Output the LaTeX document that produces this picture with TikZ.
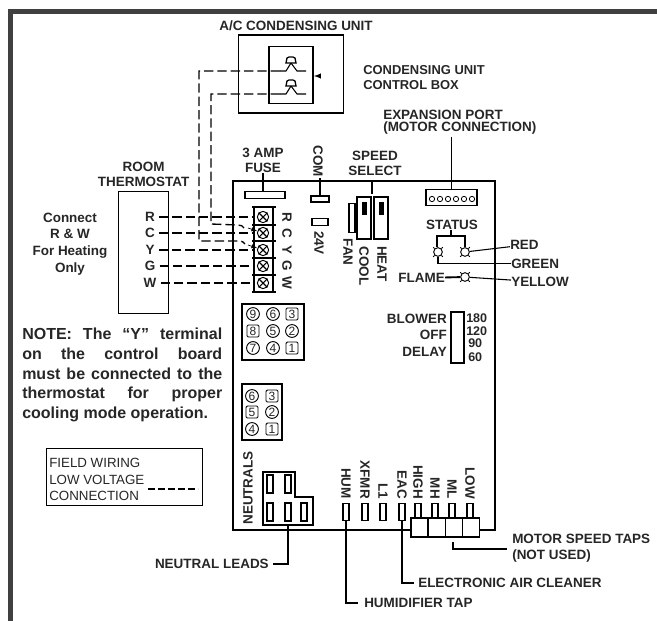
\documentclass[tikz,border=0pt]{standalone}
\usepackage{fontspec}
\setmainfont{Liberation Sans}
\usetikzlibrary{positioning}
\usetikzlibrary{calc}
\tikzset{
  x=0.75pt, y=-0.75pt,
  every node/.style={inner sep=0pt, font=\fontsize{10.1}{11.25}\selectfont\bfseries, text=black!85},
  wire/.style={line width=1pt, dash pattern=on 7pt off 3pt},
  lead/.style={line width=0.8pt},
  heavy/.style={line width=1.4pt},
  part/.style={draw, line width=1.1pt, fill=white},
  led/.style={draw, circle, line width=0.7pt, minimum size=6.5pt},
  pin/.style={draw, circle, line width=0.7pt, minimum size=9.6pt, font=\fontsize{9}{9}\selectfont},
  sqpin/.style={draw, rectangle, rounded corners=1pt, line width=0.7pt, minimum size=9pt, font=\fontsize{9}{9}\selectfont},
  term/.style={draw, circle, line width=0.7pt, minimum size=8.5pt},
  rot/.style={rotate=-90},
  noteline/.style={anchor=west, font=\fontsize{12}{12}\selectfont\bfseries},
}
\begin{document}
\begin{tikzpicture}
  \useasboundingbox (0,0) rectangle (657,621);

  % page border
  \fill[black!75] (8,9) rectangle (657,14);
  \fill[black!75] (8,9) rectangle (13,621);

  % condensing unit
  \node[draw, line width=0.9pt, minimum width=105*0.75pt, minimum height=78*0.75pt] (unit) at (291,74) {};
  \node (unittext) at (296,26) {A/C CONDENSING UNIT};
  \node[draw, line width=1.4pt, minimum width=44*0.75pt, minimum height=57*0.75pt] (box) at (291,75) {};
  \node[anchor=west, align=left, font=\fontsize{9.7}{11.25}\selectfont\bfseries] (boxtext) at (363,78) {CONDENSING UNIT\\CONTROL BOX};
  \foreach \z/\y in {1/71,2/94} {
    \draw[lead, line width=1pt] (286,\y-8) -- (287,\y-13) -- (289,\y-14) -- (293,\y-14) -- (295,\y-13) -- (296,\y-8) -- cycle;
    \draw[lead] (291,\y-8) -- (286,\y) -- (280,\y);
    \draw[lead] (291,\y-8) -- (297,\y) -- (306,\y);
    \coordinate (sw\z) at (280,\y);
  }
  \coordinate (boxtick) at (320,76);
  \draw[lead, -latex] (boxtick) -- (box.east |- boxtick);

  % thermostat
  \node[draw, line width=0.9pt, minimum width=50*0.75pt, minimum height=122*0.75pt, anchor=north west] (stat) at (118,191) {};
  \node[above=3pt of stat, align=center] (stattext) {ROOM\\THERMOSTAT};
  \node[align=center, font=\fontsize{10.1}{12.6}\selectfont\bfseries] (connect) at (70,244) {Connect\\R \& W\\For Heating\\Only};

  % board
  \draw[heavy] (233,181) rectangle (495,530);

  % terminal strip
  \foreach \z/\lab/\y in {1/R/217,2/C/233,3/Y/250,4/G/266,5/W/283} {
    \node (t\z) at (150,\y) {\lab};
    \coordinate (e\z) at (254,\y);
    \draw[wire] (t\z.east)++(4,0) -- (e\z);
    \node[rot] (r\z) at (287,\y) {\lab};
  }
  \draw[line width=1pt] (254,207) rectangle (273,292);
  \foreach \y in {207,225,241,258,275,292} \draw[line width=1.4pt] (252,\y) -- (276,\y);
  \foreach \z/\y in {1/217,2/233,3/250,4/266,5/283} {
    \node[term] (s\z) at (263,\y) {};
    \draw[lead] (s\z.north west) -- (s\z.south east);
    \draw[lead] (s\z.north east) -- (s\z.south west);
  }

  % thermostat to condensing unit
  \draw[wire] (sw1) -- (199,71) -- (199,241) -- (238,241) .. controls (242,241) and (244,242) .. (245,244);
  \draw[wire] (sw2) -- (211,94) -- (211,224) -- (238,225) .. controls (241,225) and (243,226) .. (244,228);
  \draw[line width=0.5pt, -latex] (248,228) -- (s2);
  \draw[line width=0.5pt, -latex] (248,245) -- (s3);

  % fuse, com, 24v
  \node[align=center] (fusetext) at (263,160) {3 AMP\\FUSE};
  \node[part, line width=0.9pt, minimum width=40*0.75pt, minimum height=7*0.75pt] (fuse) at (265,195) {};
  \draw[lead] (fuse.north -| fusetext) -- (fusetext);
  \node[rot] (comtext) at (318,161) {COM};
  \node[part, minimum width=18*0.75pt, minimum height=6*0.75pt] (com) at (320,199) {};
  \draw[lead] (com.north) -- ++(0,-17);
  \node[part, minimum width=16*0.75pt, minimum height=7*0.75pt] (vbox) at (320,222) {};
  \node[rot] (vtext) at (319,243) {24V};

  % speed select
  \node[align=center] (speedtext) at (375,163) {SPEED\\SELECT};
  \node[part, line width=0.8pt, minimum width=6*0.75pt, minimum height=29*0.75pt] (fan) at (352,218) {};
  \node[part, minimum width=14*0.75pt, minimum height=42*0.75pt] (cool) at (364,218) {};
  \node[part, minimum width=14*0.75pt, minimum height=42*0.75pt] (heat) at (381,218) {};
  \fill (361.5,202) rectangle (367,215);
  \fill (378.5,202) rectangle (384,215);
  \draw[lead] (372,181) -- (372,194);
  \node[rot] (fantext) at (348,252) {FAN};
  \node[rot] (cooltext) at (364,266) {COOL};
  \node[rot] (heattext) at (382,264) {HEAT};

  % expansion port
  \node[anchor=west, align=left, font=\fontsize{10.1}{8.6}\selectfont\bfseries] (porttext) at (383,122) {EXPANSION PORT\\(MOTOR CONNECTION)};
  \node[part, minimum width=51*0.75pt, minimum height=16*0.75pt] (port) at (451.5,197.5) {};
  \foreach \x in {0,...,5} \node[draw, circle, line width=0.6pt, minimum size=4pt] (p\x) at (432+8*\x,199) {};
  \draw[lead] (451.5,137) -- (port.north);

  % status
  \node (statustext) at (452,225) {STATUS};
  \node[led] (ledg) at (438,252) {};
  \node[led] (ledr) at (465,252) {};
  \node[led] (ledy) at (465,277) {};
  \foreach \a in {ledg,ledr,ledy} \foreach \d in {45,135,225,315}
    \draw[line width=0.6pt] (\a.\d) -- ($(\a.center)!1.4!(\a.\d)$);
  \draw[lead] (437,247) -- (437,236) -- (465,236) -- (465,247);
  \draw[lead] (451,236) -- (statustext.south -| 451,236);
  \node[anchor=west] (redtext) at (510,245) {RED};
  \node[anchor=west] (greentext) at (511,263.5) {GREEN};
  \node[anchor=west] (yellowtext) at (511,282) {YELLOW};
  \node[anchor=east] (flametext) at (445,278) {FLAME};
  \draw[lead] (ledr) -- (redtext);
  \draw[heavy] (ledg.south) |- (greentext);
  \draw[lead] (ledy) -- (yellowtext);
  \draw[heavy] (flametext) -- (ledy);

  % blower delay
  \node[part, minimum width=13*0.75pt, minimum height=51*0.75pt] (delay) at (457.5,337.5) {};
  \node[anchor=east, align=right, font=\fontsize{10.1}{12.4}\selectfont\bfseries] (delaytext) at (447,335) {BLOWER\\OFF\\DELAY};
  \foreach \t/\x/\y in {180/466/318,120/466/331,90/468/343,60/468/357}
    \node[anchor=west, font=\fontsize{9.4}{10}\selectfont\bfseries] (d\t) at (\x,\y) {\t};

  % plugs
  \draw[line width=1.6pt] (242,304) rectangle (304,360);
  \foreach \t/\x/\y in {9/253/314,6/273/314,2/292/331,5/273/331,7/253/348,4/273/348}
    \node[pin] (a\t) at (\x,\y) {\t};
  \foreach \t/\x/\y in {3/292/314,8/253/331,1/292/348}
    \node[sqpin] (a\t) at (\x,\y) {\t};
  \draw[line width=1.6pt] (242,384) rectangle (282,440);
  \foreach \t/\x/\y in {6/252/396,2/272/412,4/252/429}
    \node[pin] (b\t) at (\x,\y) {\t};
  \foreach \t/\x/\y in {3/272/396,5/252/412,1/272/429}
    \node[sqpin] (b\t) at (\x,\y) {\t};

  % note and legend
  \node[noteline] (note1) at (22,334) {\makebox[150pt][s]{NOTE: The ``Y'' terminal}};
  \node[noteline] (note2) at (22,354) {\makebox[150pt][s]{on the control board}};
  \node[noteline] (note3) at (22,374) {\makebox[150pt][s]{must be connected to the}};
  \node[noteline] (note4) at (22,394) {\makebox[150pt][s]{thermostat for proper}};
  \node[noteline] (note5) at (22,414) {cooling mode operation.};
  \node[draw, line width=1pt, minimum width=156*0.75pt, minimum height=57*0.75pt, anchor=north west] (legend) at (46,448) {};
  \node[anchor=west, align=left, font=\fontsize{10}{12.4}\selectfont] (legendtext) at (49,479.5) {FIELD WIRING\\LOW VOLTAGE\\CONNECTION};
  \coordinate (legenda) at (148,489);
  \coordinate (legendb) at (198,489);
  \draw[wire, dash pattern=on 5pt off 2.5pt] (legenda) -- (legendb);

  % neutrals
  \node[rotate=90] (neutraltext) at (248,488) {NEUTRALS};
  \draw[line width=1pt] (263,472) -- (295,472) -- (295,497) -- (313,497) -- (313,525) -- (263,525) -- cycle;
  \foreach \x/\y in {267/475,285/475,267/503,285/503,301/503}
    \draw[line width=1.1pt] (\x,\y) rectangle ++(6,18);
  \node[anchor=east] (neutralleads) at (269,564) {NEUTRAL LEADS};
  \coordinate (neutraljoin) at (288,525);
  \draw[lead] (neutraljoin) |- ($(neutralleads.east)+(4,0)$);

  % taps
  \foreach \t/\x in {HUM/346,XFMR/365,L1/383,EAC/402,HIGH/418,MH/435,ML/452,LOW/470} {
    \node[part, minimum width=6*0.75pt, minimum height=17*0.75pt] (q\t) at (\x,512) {};
    \node[rot, anchor=east] (n\t) at (\x,499) {\t};
  }
  \node[part, minimum width=17*0.75pt, minimum height=19*0.75pt] (m1) at (419.5,527.5) {};
  \node[part, minimum width=17*0.75pt, minimum height=19*0.75pt] (m2) at (437,527.5) {};
  \node[part, minimum width=17*0.75pt, minimum height=19*0.75pt] (m3) at (454,527.5) {};
  \node[part, minimum width=17*0.75pt, minimum height=19*0.75pt] (m4) at (471,527.5) {};
  \node[anchor=west, align=left, font=\fontsize{10.1}{12}\selectfont\bfseries] (tapstext) at (512,548) {MOTOR SPEED TAPS\\(NOT USED)};
  \coordinate (tapsjoin) at (453,542);
  \draw[lead] (tapsjoin) |- ($(tapstext.west)+(-5,1)$);
  \node[anchor=west] (eacleads) at (418,583) {ELECTRONIC AIR CLEANER};
  \draw[lead] (qEAC.south) |- ($(eacleads.west)+(-4,0)$);
  \node[anchor=west] (humleads) at (364,603) {HUMIDIFIER TAP};
  \draw[lead] (qHUM.south) |- ($(humleads.west)+(-6,0)$);
\end{tikzpicture}
\end{document}
